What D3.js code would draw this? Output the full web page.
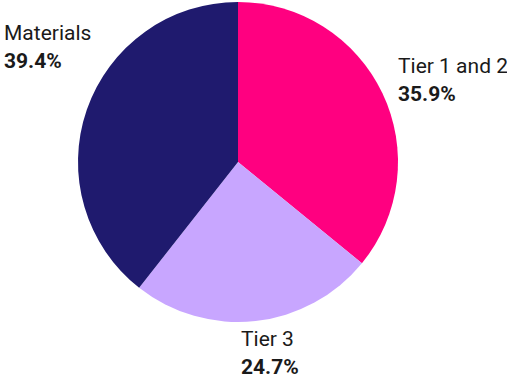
<!DOCTYPE html>
<html>
<head>
<meta charset="utf-8">
<script src="https://cdn.jsdelivr.net/npm/d3@7"></script>
<style>
  html, body { margin: 0; padding: 0; background: #fff; }
  svg text { font-family: "Roboto", "DejaVu Sans", sans-serif; fill: #1a1a1a; }
</style>
</head>
<body>
<svg id="chart" width="507" height="376"></svg>
<script>
// Share of emissions by source
const categories = ["Tier 1 and 2", "Tier 3", "Materials"];
const shares = [35.9, 24.7, 39.4];
const colors = ["#FF0080", "#C8A6FF", "#1F1A6E"];

const width = 507, height = 376;
const cx = 238, cy = 162, radius = 160;

const svg = d3.select("#chart");
const g = svg.append("g").attr("transform", `translate(${cx},${cy})`);

const pie = d3.pie().value(d => d).sort(null);
const arc = d3.arc().innerRadius(0).outerRadius(radius);

const arcs = pie(shares);

g.selectAll("path")
  .data(arcs)
  .join("path")
  .attr("d", arc)
  .attr("fill", (d, i) => colors[i]);

// Label placement (baseline of the category name)
const labelPos = [
  { x: 398, y: 73 },
  { x: 241, y: 346 },
  { x: 4, y: 40 }
];

const labels = svg.selectAll("g.label")
  .data(arcs)
  .join("g")
  .attr("class", "label")
  .attr("transform", (d, i) => `translate(${labelPos[i].x},${labelPos[i].y})`);

labels.append("text")
  .attr("font-size", 21)
  .text((d, i) => categories[i]);

labels.append("text")
  .attr("y", 28)
  .attr("font-size", 21)
  .attr("font-weight", "bold")
  .text(d => d3.format(".1f")(d.data) + "%");
</script>
</body>
</html>
